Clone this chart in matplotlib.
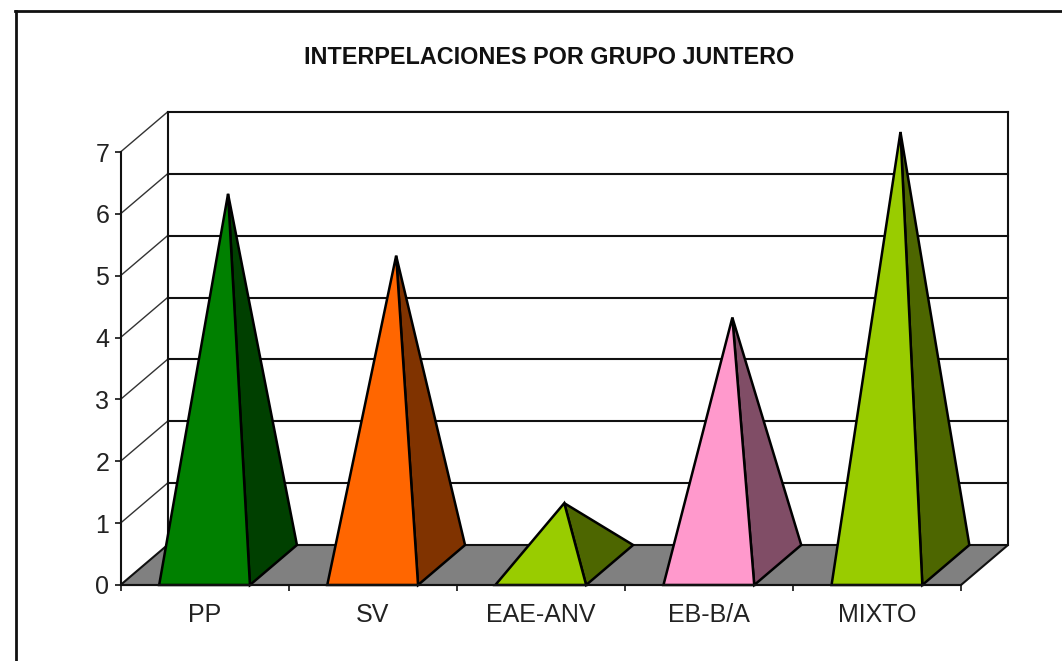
import matplotlib
matplotlib.use('Agg')
import matplotlib.pyplot as plt
import matplotlib.patches as patches
from matplotlib.lines import Line2D

categories = ['PP', 'SV', 'EAE-ANV', 'EB-B/A', 'MIXTO']
values = [6, 5, 1, 4, 7]
front_colors = ['#008000', '#FF6600', '#99CC00', '#FF99CC', '#99CC00']
side_colors = ['#004000', '#803300', '#4D6600', '#804D66', '#4D6600']
y_ticks = [0, 1, 2, 3, 4, 5, 6, 7]

W, H = 1062, 661
plt.rcParams['font.family'] = ['Liberation Sans', 'DejaVu Sans']

fig = plt.figure(figsize=(W / 100, H / 100), dpi=100)
# axes box is the front plane of the fake 3d chart
left, right, top, bottom = 120.5, 961, 152, 585
ax = fig.add_axes((left / W, 1 - bottom / H, (right - left) / W, (bottom - top) / H))
ax.set_xlim(-0.5, 4.5)
ax.set_ylim(0, 7)
ax.patch.set_alpha(0)

# depth of the box in data units
dx = 47 / ((right - left) / 5)
dy = 40 / ((bottom - top) / 7)
half = 0.27
lw = 1.5
edge = '#111111'

# floor and back wall
ax.add_patch(patches.Polygon([(-0.5, 0), (4.5, 0), (4.5 + dx, dy), (-0.5 + dx, dy)], closed=True,
                             facecolor='#808080', edgecolor=edge, lw=lw, clip_on=False, zorder=1))
for t in y_ticks[1:]:
    ax.plot([-0.5 + dx, 4.5 + dx], [t + dy, t + dy], color=edge, lw=lw, clip_on=False, zorder=1)
    ax.plot([-0.5, -0.5 + dx], [t, t + dy], color='#333333', lw=1, clip_on=False, zorder=1)
ax.plot([-0.5 + dx, -0.5 + dx], [dy, 7 + dy], color=edge, lw=lw, clip_on=False, zorder=1)
ax.plot([4.5 + dx, 4.5 + dx], [dy, 7 + dy], color=edge, lw=lw, clip_on=False, zorder=1)

# pyramids
for i, v in enumerate(values):
    apex = (i + dx / 2, v + dy / 2)
    ax.add_patch(patches.Polygon([(i + half, 0), (i + half + dx, dy), apex], closed=True,
                                 facecolor=side_colors[i], edgecolor='black', lw=1.8, clip_on=False, zorder=3))
    ax.add_patch(patches.Polygon([(i - half, 0), (i + half, 0), apex], closed=True,
                                 facecolor=front_colors[i], edgecolor='black', lw=1.8, clip_on=False, zorder=3))

for s in ['top', 'right']:
    ax.spines[s].set_visible(False)
for s in ['left', 'bottom']:
    ax.spines[s].set_linewidth(lw)
    ax.spines[s].set_color(edge)
    ax.spines[s].set_zorder(4)

ax.set_yticks(y_ticks)
ax.set_xticks([i - 0.5 for i in range(len(categories) + 1)])
ax.set_xticklabels([])
ax.set_xticks(range(len(categories)), labels=categories, minor=True)
ax.tick_params(axis='x', which='major', length=4, width=1.2, color=edge)
ax.tick_params(axis='x', which='minor', length=0, pad=13, labelsize=18, labelcolor='#222222')
ax.tick_params(axis='y', length=4, width=1.2, color=edge, pad=4, labelsize=18, labelcolor='#222222')

fig.text(549 / W, 1 - 57 / H, 'INTERPELACIONES POR GRUPO JUNTERO', ha='center', va='center',
         fontsize=16.8, fontweight='bold', color='#111111')

# chart frame, only left and top are inside the picture
fig.add_artist(Line2D([15.5 / W, 15.5 / W], [0, 1 - 11 / H], color='#111111', lw=2))
fig.add_artist(Line2D([15 / W, 1], [1 - 11 / H, 1 - 11 / H], color='#111111', lw=2))

fig.savefig('out.png', dpi=100)
